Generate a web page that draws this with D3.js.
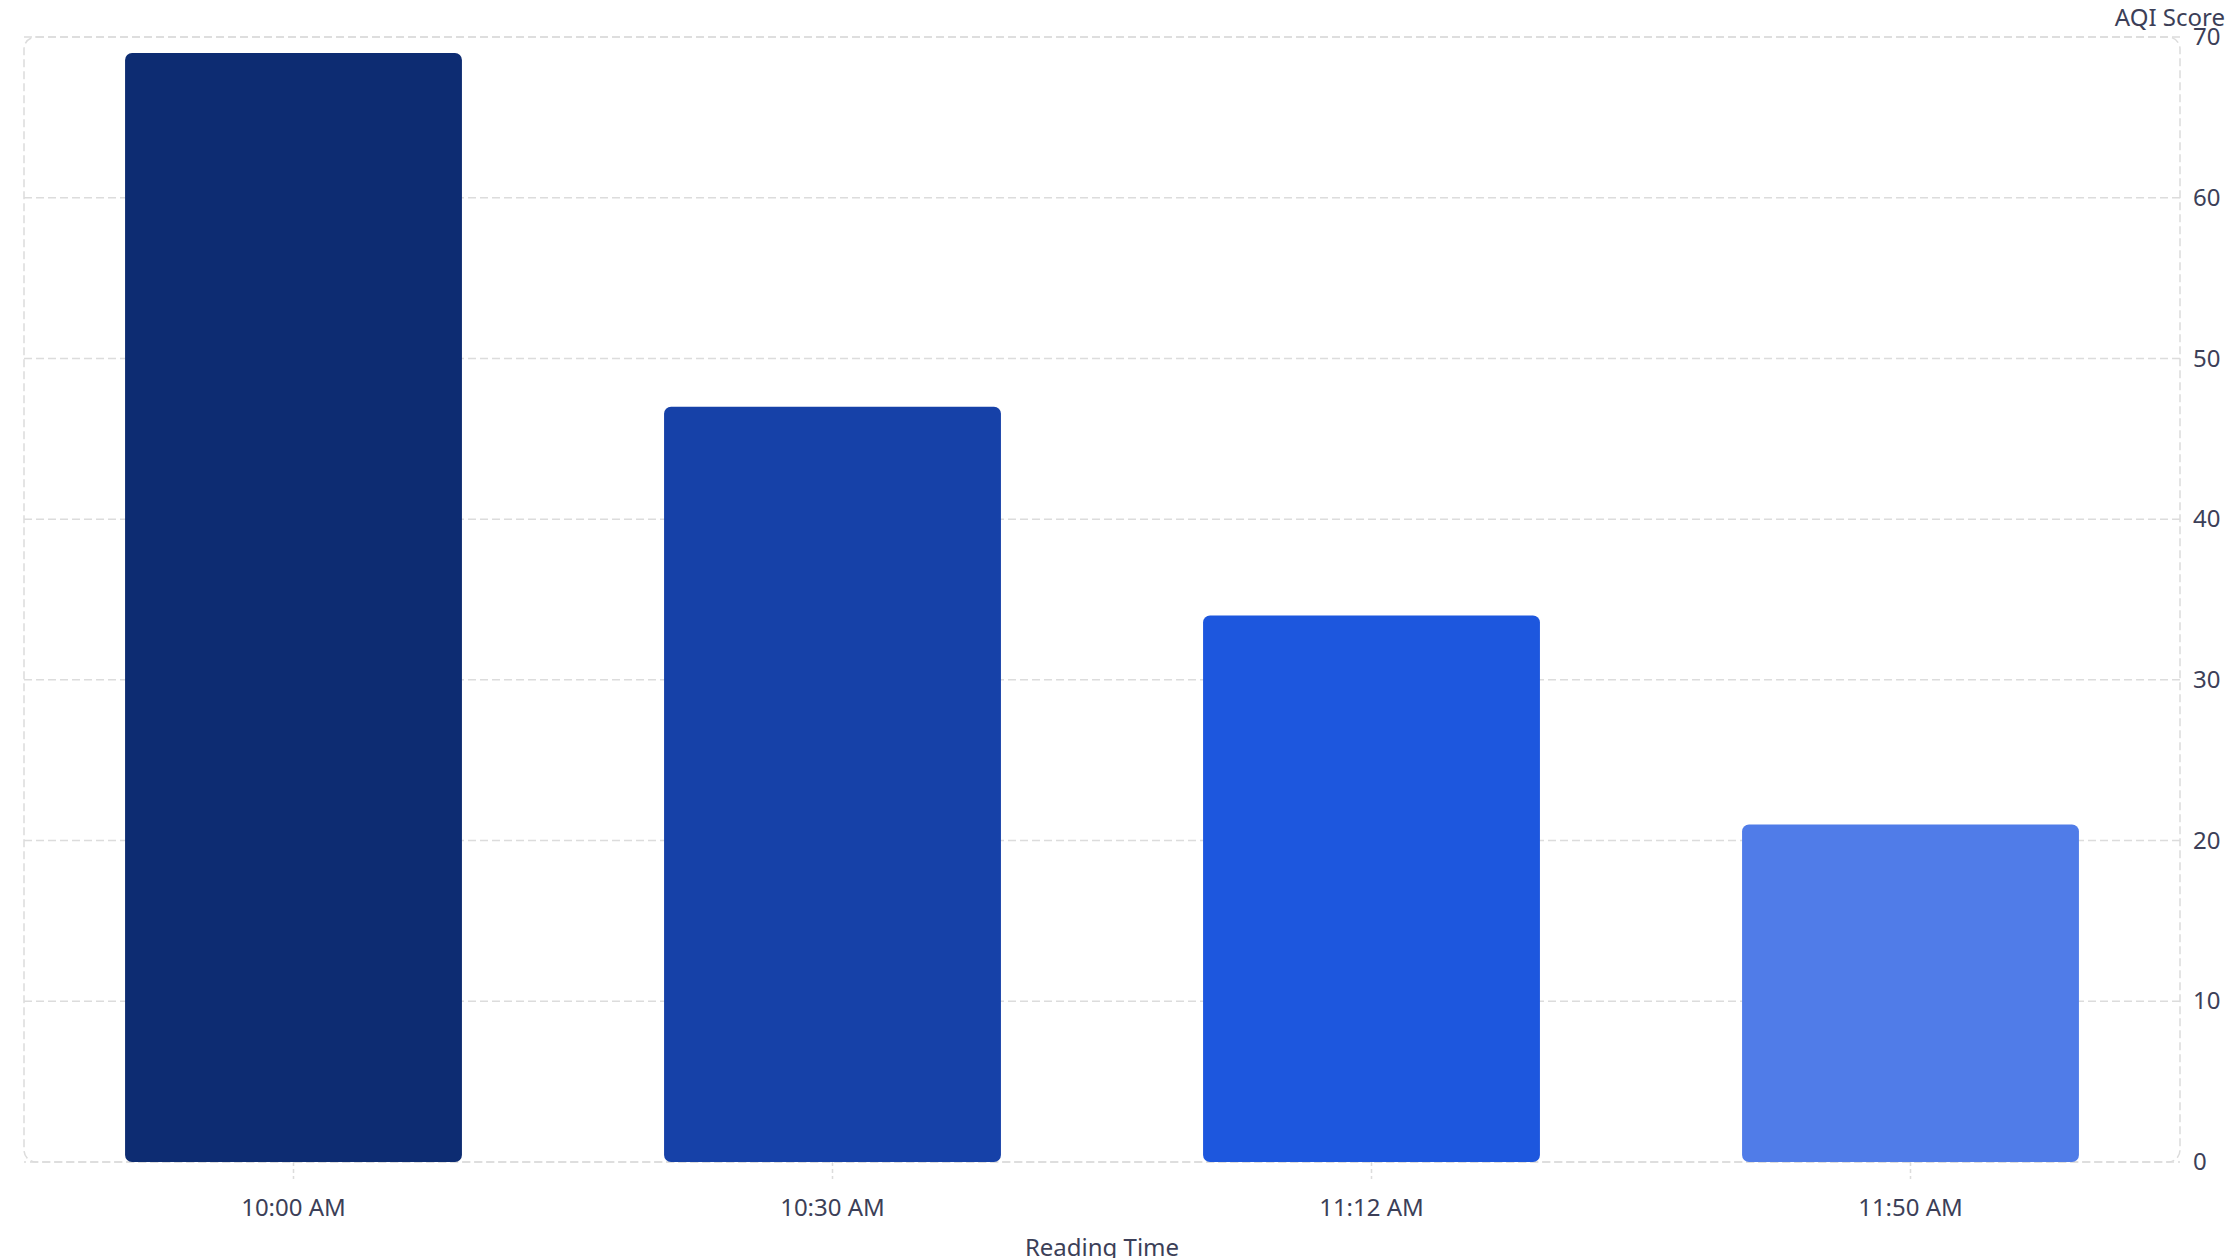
<!DOCTYPE html>
<html>
<head>
<meta charset="utf-8">
<script src="https://cdn.jsdelivr.net/npm/d3@7"></script>
<style>
  html, body { margin: 0; padding: 0; background: #fff; }
  svg { display: block; font-family: "Noto Sans", sans-serif; }
</style>
</head>
<body>
<svg id="chart"></svg>
<script>
// data
var readingTimes = ["10:00 AM", "10:30 AM", "11:12 AM", "11:50 AM"];
var aqiScores = [69, 47, 34, 21];
var barColors = ["#0d2c72", "#1641a8", "#1d57de", "#507ce8"];
var yTicks = [0, 10, 20, 30, 40, 50, 60, 70];

var W = 2226, H = 1258;
var margin = { top: 37, right: 46, bottom: 96, left: 24 };
var iw = W - margin.left - margin.right,
    ih = H - margin.top - margin.bottom;

var textColor = "#3c3f58",
    gridColor = "#dcdcdc";

var svg = d3.select("#chart").attr("width", W).attr("height", H);
var g = svg.append("g").attr("transform", "translate(" + margin.left + "," + margin.top + ")");

var x = d3.scaleBand()
    .domain(readingTimes)
    .range([0, iw])
    .paddingInner(0.375)
    .paddingOuter(0.1875);

var y = d3.scaleLinear().domain([0, 70]).range([ih, 0]);

// grid
g.append("g")
    .selectAll("line")
    .data(yTicks)
    .join("line")
    .attr("x1", 0)
    .attr("x2", iw)
    .attr("y1", function(d) { return y(d); })
    .attr("y2", function(d) { return y(d); })
    .attr("stroke", gridColor)
    .attr("stroke-width", 1.5)
    .attr("stroke-dasharray", "8,4")
    .attr("stroke-dashoffset", function(d) { return d === 0 ? 6 : 0; });

// frame
g.append("rect")
    .attr("x", 0).attr("y", 0)
    .attr("width", iw).attr("height", ih)
    .attr("rx", 12)
    .attr("fill", "none")
    .attr("stroke", gridColor)
    .attr("stroke-width", 1.5)
    .attr("stroke-dasharray", "8,4");

// bars
g.append("g")
    .selectAll("rect")
    .data(aqiScores)
    .join("rect")
    .attr("x", function(d, i) { return x(readingTimes[i]); })
    .attr("y", function(d) { return y(d); })
    .attr("width", x.bandwidth())
    .attr("height", function(d) { return ih - y(d); })
    .attr("rx", 7)
    .attr("fill", function(d, i) { return barColors[i]; });

// x axis
var xAxis = g.append("g")
    .attr("transform", "translate(0," + ih + ")")
    .call(d3.axisBottom(x).tickSize(17).tickPadding(20));
xAxis.select(".domain").remove();
xAxis.selectAll(".tick line")
    .attr("stroke", gridColor)
    .attr("stroke-width", 1.5)
    .attr("stroke-dasharray", "4,3");
xAxis.selectAll(".tick text")
    .attr("fill", textColor)
    .style("font-size", "24px")
    .style("font-family", "'Noto Sans', sans-serif");

// y axis (right)
var yAxis = g.append("g")
    .attr("transform", "translate(" + iw + ",0)")
    .call(d3.axisRight(y).tickValues(yTicks).tickSize(0).tickPadding(13));
yAxis.select(".domain").remove();
yAxis.selectAll(".tick text")
    .attr("fill", textColor)
    .style("font-size", "24px")
    .style("font-family", "'Noto Sans', sans-serif");

// axis titles
svg.append("text")
    .attr("x", W - 1)
    .attr("y", 26)
    .attr("text-anchor", "end")
    .attr("fill", textColor)
    .style("font-size", "24px")
    .text("AQI Score");

svg.append("text")
    .attr("x", margin.left + iw / 2)
    .attr("y", 1256)
    .attr("text-anchor", "middle")
    .attr("fill", textColor)
    .style("font-size", "24px")
    .text("Reading Time");
</script>
</body>
</html>
